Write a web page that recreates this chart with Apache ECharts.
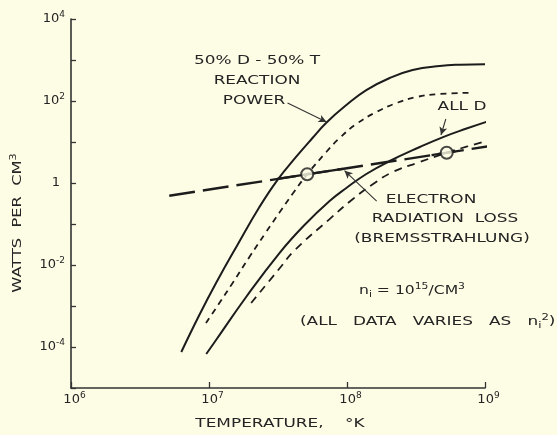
<!DOCTYPE html>
<html><head><meta charset="utf-8">
<script src="https://cdn.jsdelivr.net/npm/echarts@6/dist/echarts.min.js"></script>
<style>html,body{margin:0;padding:0;background:#fdfde6}#c{width:557px;height:435px}</style>
</head><body><div id="c"></div>
<script>
// Temperature (K) vs power density (W/cm^3)
const dtSolid = [[6.30e6,7.55e-5],[8.51e6,6.03e-4],[1.125e7,3.64e-3],[1.607e7,3.08e-2],[2.32e7,0.26],[3.13e7,1.18],[4.29e7,4.38],[5.62e7,12.5],[7.08e7,29.6],[9.9e7,80],[1.38e8,185],[2.04e8,364],[2.99e8,570],[4.7e8,715],[6.58e8,767],[1.0e9,785]];
const dtDashed = [[9.51e6,3.85e-4],[1.189e7,1.18e-3],[1.483e7,3.64e-3],[1.963e7,1.57e-2],[2.594e7,6.38e-2],[3.24e7,0.19],[4.05e7,0.555],[5.15e7,1.63],[7.08e7,5.7],[8.84e7,12.5],[1.169e8,27.5],[1.634e8,54],[2.28e8,89],[3.18e8,125],[4.7e8,148],[8.0e8,159]];
const allDSolid = [[9.55e6,6.75e-5],[1.125e7,1.48e-4],[1.858e7,1.66e-3],[3.24e7,1.96e-2],[4.92e7,9.46e-2],[7.48e7,0.364],[9.89e7,0.755],[1.38e8,1.66],[2.04e8,3.44],[3.37e8,7.55],[4.97e8,13.2],[7.35e8,21.3],[1.03e9,31.3]];
const allDDashed = [[2.02e7,1.18e-3],[3.24e7,8.2e-3],[4.16e7,2.26e-2],[7.48e7,0.132],[1.104e8,0.407],[1.585e8,1.0],[2.14e8,1.85],[3.37e8,3.25],[5.28e8,5.48],[7.35e8,7.67],[1.084e9,11.2]];
const brems = [[5.15e6,0.49],[1.854e9,10.5]];
const bremsSolidA = [[3.13e7,1.26],[9.29e7,2.21]];
const bremsSolidB = [[4.1e8,4.8],[6.1e8,5.9]];
const ignitionPoints = [[5.15e7,1.63],[5.28e8,5.48]];
const xLabelExps = [6,7,8,9];
const yLabelExps = [4,2,0,-2,-4];
const pointers = [
  [[3.71e7,89],[7.11e7,30.8]],
  [[5.2e8,36.4],[4.8e8,14.8]],
  [[1.64e8,0.36],[9.6e7,2.0]]
];

const BG = '#fdfde6', INK = '#1c1c1c', TXT = '#242424';
const FONT = '"DejaVu Sans", sans-serif';
const chart = echarts.init(document.getElementById('c'), null, {renderer:'canvas'});

function lineSeries(data, type, width){
  return {type:'line', data, smooth:0.45, symbol:'none', silent:true,
    lineStyle:{color:INK, width, type}, z:3};
}
const rich = {
  b:{fontFamily:FONT, fontSize:13, color:TXT},
  s:{fontFamily:FONT, fontSize:9, color:TXT, padding:[0,0,9,0]},
  one:{fontFamily:FONT, fontSize:13, color:TXT, padding:[0,5,0,0]},
  bx:{fontFamily:FONT, fontSize:13, color:TXT, padding:[0,0,0,7]}
};
const annoRich = {
  t:{fontFamily:FONT, fontSize:13, color:TXT},
  sup:{fontFamily:FONT, fontSize:9, color:TXT, padding:[0,0,9,0]},
  sub:{fontFamily:FONT, fontSize:9, color:TXT, padding:[7,0,0,0]}
};
function txt(text, x, y, align, sx){
  return {type:'text', x, y, scaleX:sx||1.3, z:10,
    style:{text, fill:TXT, font:'13px '+FONT, textAlign:align||'center', textVerticalAlign:'middle'}};
}
function richTxt(text, x, y, align, sx, rot){
  return {type:'text', x, y, rotation:rot||0, scaleX:sx, z:10,
    style:{text, rich:annoRich, fill:TXT, font:'13px '+FONT, textAlign:align||'center', textVerticalAlign:'middle'}};
}

chart.setOption({
  backgroundColor: BG,
  animation:false,
  grid:{left:71, right:72, top:19, bottom:47, containLabel:false},
  xAxis:{type:'log', logBase:10, min:1e6, max:1e9, interval:1,
    axisLine:{show:true, lineStyle:{color:'#333', width:1.6}},
    axisTick:{show:true, inside:true, length:6, lineStyle:{color:'#333', width:1.3}},
    splitLine:{show:false}, minorTick:{show:false},
    axisLabel:{margin:3, rich, formatter:v=>{const e=Math.round(Math.log10(v)); return xLabelExps.includes(e)?'{bx|10}{s|'+e+'}':'';}}
  },
  yAxis:{type:'log', logBase:10, min:1e-5, max:1e4, interval:1,
    axisLine:{show:true, onZero:false, lineStyle:{color:'#333', width:1.6}},
    axisTick:{show:true, inside:true, length:5, lineStyle:{color:'#333', width:1.3}},
    splitLine:{show:false}, minorTick:{show:false},
    axisLabel:{margin:6, rich, formatter:v=>{const e=Math.round(Math.log10(v)); if(!yLabelExps.includes(e)) return ''; return e===0?'{one|1}':'{b|10}{s|'+e+'}';}}
  },
  graphic:[
    txt('50% D - 50% T', 257, 61),
    txt('REACTION', 257, 81),
    txt('POWER', 254, 101),
    txt('ALL D', 462, 107),
    txt('ELECTRON', 431, 200),
    txt('RADIATION  LOSS', 445, 219),
    txt('(BREMSSTRAHLUNG)', 442, 239),
    txt('TEMPERATURE,    °K', 280, 424),
    richTxt('{t|n}{sub|i}{t| = 10}{sup|15}{t|/CM}{sup|3}', 412, 291, 'center', 1.2),
    richTxt('{t|(ALL   DATA   VARIES   AS   n}{sub|i}{sup|2}{t|)}', 300, 322, 'left', 1.3),
    richTxt('{t|WATTS  PER  CM}{sup|3}', 18, 223, 'center', 1.25, Math.PI/2)
  ],
  series:[
    lineSeries(dtSolid,'solid',2),
    lineSeries(dtDashed,[6,5],1.8),
    lineSeries(allDSolid,'solid',2),
    lineSeries(allDDashed,[8,6],1.8),
    Object.assign(lineSeries(brems,[26,8],2.4),{smooth:false}),
    Object.assign(lineSeries(bremsSolidA,'solid',2.4),{smooth:false}),
    Object.assign(lineSeries(bremsSolidB,'solid',2.4),{smooth:false}),
    {type:'scatter', data:ignitionPoints, symbol:'circle', symbolSize:12, silent:true, z:6,
     itemStyle:{color:BG, borderColor:INK, borderWidth:2}},
    {type:'line', data:[], silent:true, z:4,
     markLine:{silent:true, symbol:['none','arrow'], symbolSize:[6,8], animation:false,
       label:{show:false}, lineStyle:{color:'#333', width:1.1, type:'solid'},
       data: pointers.map(p=>[{coord:p[0]},{coord:p[1]}])}}
  ]
});
</script></body></html>
